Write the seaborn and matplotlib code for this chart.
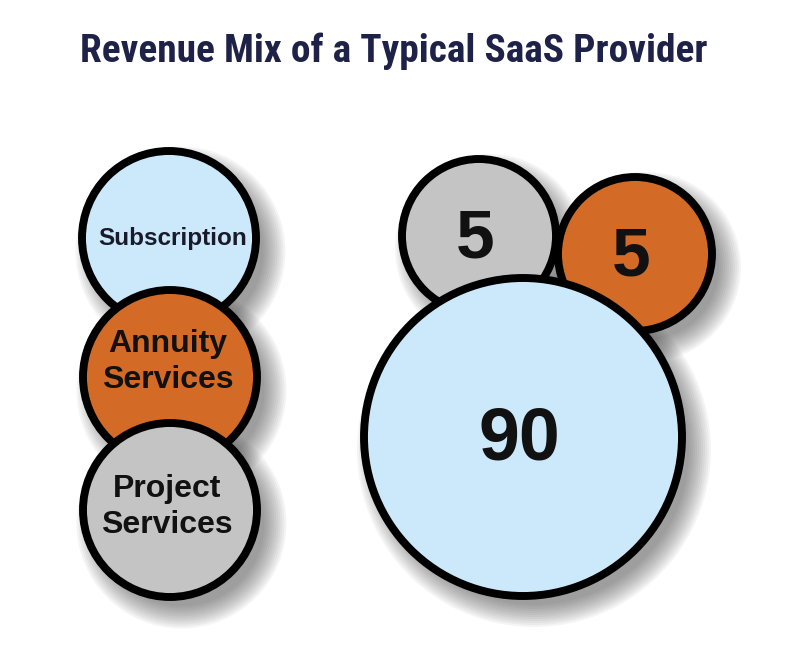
import matplotlib
matplotlib.use("Agg")
import matplotlib.pyplot as plt
from matplotlib import font_manager
import seaborn as sns
import pandas as pd

# ---------------- data ----------------
categories = ["Subscription", "Annuity Services", "Project Services"]
legend_labels = ["Subscription", "Annuity\nServices", "Project\nServices"]
values = [90, 5, 5]
value_labels = ["90", "5", "5"]
title = "Revenue Mix of a Typical SaaS Provider"

# ---------------- style / layout ----------------
colors = {"Subscription": "#cbe9fa", "Annuity Services": "#d36b26", "Project Services": "#c4c4c4"}
bubble_pos = {"Subscription": (523, 437), "Annuity Services": (635, 254), "Project Services": (479, 236)}
legend_pos = {"Subscription": (169, 238), "Annuity Services": (170, 377), "Project Services": (170, 510)}
draw_order = ["Project Services", "Annuity Services", "Subscription"]

PX2PT = 0.72
def s_from_radius(r_px):
    return (2 * r_px * PX2PT) ** 2

sns.set_theme(style="white")
avail = {f.name for f in font_manager.fontManager.ttflist}
title_family = "Roboto Condensed" if "Roboto Condensed" in avail else "Roboto"
title_size = 28.4 if title_family == "Roboto Condensed" else 21.5
label_family = ["Liberation Sans", "DejaVu Sans"]

fig = plt.figure(figsize=(8.1, 6.66), dpi=100)
ax = fig.add_axes([0, 0, 1, 1])

val_map = dict(zip(categories, values))
df = pd.DataFrame({
    "category": draw_order,
    "value": [val_map[c] for c in draw_order],
    "x": [bubble_pos[c][0] for c in draw_order],
    "y": [bubble_pos[c][1] for c in draw_order],
})
leg = pd.DataFrame({
    "category": categories,
    "x": [legend_pos[c][0] for c in categories],
    "y": [legend_pos[c][1] for c in categories],
})

r_small, r_big, r_leg = 77, 159, 87
lw = 5.7

# shadows (soft, offset down-right)
shadow_dx, shadow_dy = 11, 13
n_layers = 12
for k in range(n_layers):
    grow = -8 + k * 2.0
    ax.scatter(df.x + shadow_dx, df.y + shadow_dy,
               s=[s_from_radius((r_big if v == max(values) else r_small) + 4 + grow) for v in df.value],
               color="#3a3a3a", alpha=0.05, linewidths=0, zorder=1)
    ax.scatter(leg.x + shadow_dx, leg.y + shadow_dy, s=s_from_radius(r_leg + 4 + grow),
               color="#3a3a3a", alpha=0.05, linewidths=0, zorder=1)

# bubbles
sns.scatterplot(data=df, x="x", y="y", hue="category", palette=colors,
                size="value", sizes=(s_from_radius(r_small), s_from_radius(r_big)),
                edgecolor="black", linewidth=lw, alpha=1, legend=False, ax=ax, zorder=3)

# legend circles
sns.scatterplot(data=leg, x="x", y="y", hue="category", palette=colors,
                s=s_from_radius(r_leg), edgecolor="black", linewidth=lw, alpha=1,
                legend=False, ax=ax, zorder=3)

ax.set_xlim(0, 810)
ax.set_ylim(666, 0)
ax.axis("off")

# value labels
vlab = dict(zip(categories, value_labels))
for c in categories:
    x, y = bubble_pos[c]
    fs = 53 if val_map[c] == max(values) else 50
    ax.text(x - 4, y + 3, vlab[c], ha="center", va="center", fontsize=fs,
            fontweight="bold", family=label_family, color="#111111", zorder=5)

# legend labels
for c, lab in zip(categories, legend_labels):
    x, y = legend_pos[c]
    if c == "Subscription":
        ax.text(x + 4, y, lab, ha="center", va="center", fontsize=17.5,
                fontweight="bold", family=label_family, color="#1a1a2a", zorder=5)
    elif c == "Annuity Services":
        ax.text(x - 2, y - 15, lab, ha="center", va="center", fontsize=23,
                fontweight="bold", family=label_family, color="#111111",
                linespacing=1.3, zorder=5)
    else:
        ax.text(x - 3, y - 3, lab, ha="center", va="center", fontsize=23,
                fontweight="bold", family=label_family, color="#111111",
                linespacing=1.3, zorder=5)

fig.text(394 / 810, 1 - 51 / 666, title, ha="center", va="center",
         fontsize=title_size, fontweight="bold", family=title_family, color="#1e2148")

fig.savefig("out.png", dpi=100, facecolor="white")
